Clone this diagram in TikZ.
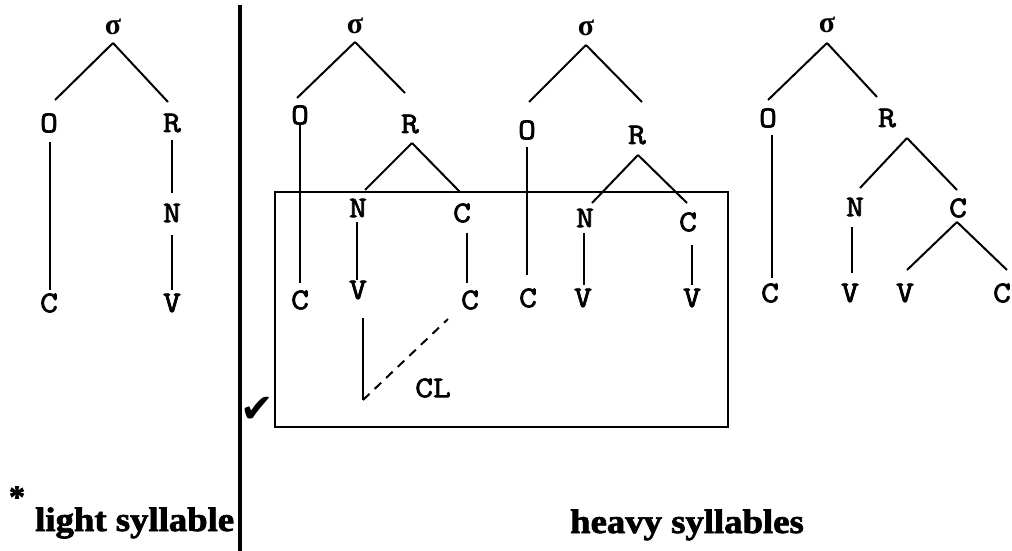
\documentclass[tikz,border=0pt]{standalone}
\usepackage{fontspec}
\newfontfamily\mono{Latin Modern Mono}[FakeBold=2.5, FakeStretch=1.15]
\newfontfamily\gr{Liberation Serif}
\newfontfamily\lbl{Liberation Serif Bold}[FakeBold=2]
\newfontfamily\sym{DejaVu Sans}
\usetikzlibrary{calc}
\begin{document}
\begin{tikzpicture}[x=1pt,y=-1pt,
  lt/.style={font=\mono\fontsize{30}{32}\selectfont, inner sep=0pt},
  sg/.style={font=\gr\bfseries\fontsize{30}{32}\selectfont, inner sep=0pt},
  ln/.style={line width=2pt},
  big/.style={font=\lbl\fontsize{34}{36}\selectfont, inner sep=0pt, anchor=base west}]
\useasboundingbox (0,0) rectangle (1012,551);
\fill[white] (0,0) rectangle (1012,551);
% divider and box
\draw[line width=4.5pt] (240,5) -- (240,551);
\node[draw, line width=2.6pt, inner sep=0pt, minimum width=453pt, minimum height=235pt] (box) at (501.5,309.5) {};
% tree 1
\node[sg] (s1) at (113,27) {σ};
\node[lt] (o1) at (49,123) {O};
\node[lt] (r1) at (172,123) {R};
\node[lt] (n1) at (172,213) {N};
\node[lt] (c1) at (49,303) {C};
\node[lt] (v1) at (172,303) {V};
\draw[ln] ([shift={(0,16)}]s1.center) -- ([shift={(6,-23)}]o1.center);
\draw[ln] ([shift={(0,16)}]s1.center) -- ([shift={(-4,-21)}]r1.center);
\draw[ln] ([shift={(1,19)}]o1.center) -- ([shift={(1,-13)}]c1.center);
\draw[ln] ([shift={(0,17)}]r1.center) -- ([shift={(0,-20)}]n1.center);
\draw[ln] ([shift={(0,22)}]n1.center) -- ([shift={(0,-13)}]v1.center);
% tree 2
\node[sg] (s2) at (355,26) {σ};
\node[lt] (o2) at (300,115) {O};
\node[lt] (r2) at (410,124) {R};
\node[lt] (n2) at (358,208) {N};
\node[lt] (k2) at (462,213) {C};
\node[lt] (c2) at (300,300) {C};
\node[lt] (v2) at (358,290) {V};
\node[lt] (cc2) at (470,300) {C};
\draw[ln] ([shift={(0,16)}]s2.center) -- ([shift={(-3,-17)}]o2.center);
\draw[ln] ([shift={(0,16)}]s2.center) -- ([shift={(-5,-31)}]r2.center);
\draw[ln] ([shift={(0,10)}]o2.center) -- ([shift={(0,-17)}]c2.center);
\draw[ln] ([shift={(2,19)}]r2.center) -- ([shift={(7,-18)}]n2.center);
\draw[ln] ([shift={(2,19)}]r2.center) -- ([shift={(-2,-21)}]k2.center);
\draw[ln] ([shift={(-1,14)}]n2.center) -- ([shift={(-1,-10)}]v2.center);
\draw[ln] ([shift={(5,20)}]k2.center) -- ([shift={(-3,-17)}]cc2.center);
% CL
\coordinate (clc) at (363,400);
\draw[ln] ([shift={(5,28)}]v2.center) -- (clc);
\draw[ln, dash pattern=on 9pt off 7pt] (clc) -- ([shift={(-22,19)}]cc2.center);
\node[lt] (cl) at (433,388) {CL};
% tree 3
\node[sg] (s3) at (586,28) {σ};
\node[lt] (o3) at (527,130) {O};
\node[lt] (r3) at (637,135) {R};
\node[lt] (n3) at (585,218) {N};
\node[lt] (k3) at (688,222) {C};
\node[lt] (c3) at (528,298) {C};
\node[lt] (v3) at (583,298) {V};
\node[lt] (vv3) at (692,298) {V};
\draw[ln] ([shift={(0,17)}]s3.center) -- ([shift={(2,-28)}]o3.center);
\draw[ln] ([shift={(0,17)}]s3.center) -- ([shift={(5,-33)}]r3.center);
\draw[ln] ([shift={(0,17)}]o3.center) -- ([shift={(-1,-23)}]c3.center);
\draw[ln] ([shift={(1,20)}]r3.center) -- ([shift={(7,-15)}]n3.center);
\draw[ln] ([shift={(1,20)}]r3.center) -- ([shift={(-1,-19)}]k3.center);
\draw[ln] ([shift={(-1,15)}]n3.center) -- ([shift={(1,-13)}]v3.center);
\draw[ln] ([shift={(4,23)}]k3.center) -- ([shift={(0,-13)}]vv3.center);
% tree 4
\node[sg] (s4) at (827,25) {σ};
\node[lt] (o4) at (768,118) {O};
\node[lt] (r4) at (887,118) {R};
\node[lt] (n4) at (855,207) {N};
\node[lt] (k4) at (958,208) {C};
\node[lt] (c4) at (770,293) {C};
\node[lt] (v4) at (850,293) {V};
\node[lt] (vv4) at (905,293) {V};
\node[lt] (cc4) at (1002,293) {C};
\draw[ln] ([shift={(0,18)}]s4.center) -- ([shift={(0,-18)}]o4.center);
\draw[ln] ([shift={(0,18)}]s4.center) -- ([shift={(-10,-21)}]r4.center);
\draw[ln] ([shift={(4,17)}]o4.center) -- ([shift={(2,-15)}]c4.center);
\draw[ln] ([shift={(20,20)}]r4.center) -- ([shift={(5,-19)}]n4.center);
\draw[ln] ([shift={(20,20)}]r4.center) -- ([shift={(-1,-18)}]k4.center);
\draw[ln] ([shift={(-3,20)}]n4.center) -- ([shift={(2,-20)}]v4.center);
\draw[ln] ([shift={(-1,14)}]k4.center) -- ([shift={(2,-23)}]vv4.center);
\draw[ln] ([shift={(-1,14)}]k4.center) -- ([shift={(5,-23)}]cc4.center);
% labels
\node[font=\sym\bfseries\fontsize{40}{40}\selectfont, inner sep=0pt] (chk) at (257,410) {✔};
\node[font=\lbl\fontsize{32}{32}\selectfont, inner sep=0pt] (ast) at (17,497) {*};
\node[big] (light) at (35,531) {\scalebox{1.08}[1]{light syllable}};
\node[big] (heavy) at (570,533) {\scalebox{1.08}[1]{heavy syllables}};
\end{tikzpicture}
\end{document}
